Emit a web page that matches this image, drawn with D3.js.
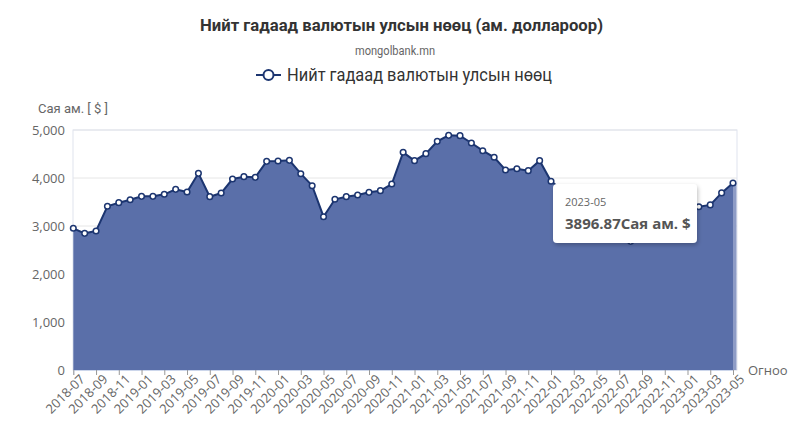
<!DOCTYPE html>
<html>
<head>
<meta charset="utf-8">
<script src="https://cdn.jsdelivr.net/npm/d3@7/dist/d3.min.js"></script>
<style>
  body { margin: 0; background: #fff; }
  svg { display: block; }
</style>
</head>
<body>
<svg id="chart" width="793" height="423"></svg>
<script>
// monthly periods 2018-07 .. 2023-05
const months = [
  '2018-07','2018-08','2018-09','2018-10','2018-11','2018-12',
  '2019-01','2019-02','2019-03','2019-04','2019-05','2019-06',
  '2019-07','2019-08','2019-09','2019-10','2019-11','2019-12',
  '2020-01','2020-02','2020-03','2020-04','2020-05','2020-06',
  '2020-07','2020-08','2020-09','2020-10','2020-11','2020-12',
  '2021-01','2021-02','2021-03','2021-04','2021-05','2021-06',
  '2021-07','2021-08','2021-09','2021-10','2021-11','2021-12',
  '2022-01','2022-02','2022-03','2022-04','2022-05','2022-06',
  '2022-07','2022-08','2022-09','2022-10','2022-11','2022-12',
  '2023-01','2023-02','2023-03','2023-04','2023-05'
]
// reserves, million USD (2022-02..2023-01 hidden by tooltip, estimated)
const reserves = [
  2952, 2847, 2896, 3410, 3486, 3548,
  3618, 3618, 3660, 3764, 3708, 4097,
  3611, 3687, 3979, 4028, 4014, 4347,
  4354, 4368, 4090, 3840, 3194, 3556,
  3611, 3646, 3701, 3736, 3875, 4535,
  4361, 4507, 4764, 4889, 4882, 4729,
  4569, 4431, 4167, 4194, 4153, 4361,
  3931, 3750, 3600, 3350, 3150, 2950,
  2770, 2680, 2750, 2900, 3050, 3400,
  3420, 3400, 3440, 3690, 3896.87
]
const yTicks = [0, 1000, 2000, 3000, 4000, 5000]
const xTickLabels = months.filter((m, i) => i % 2 === 0)

const seriesName = 'Нийт гадаад валютын улсын нөөц'
const hoverIndex = months.length - 1

const data = months.map((m, i) => ({ month: m, value: reserves[i] }))

const svg = d3.select('#chart')
const pLeft = 73, pRight = 737, pTop = 130, pBottom = 370

const x = d3.scalePoint().domain(months).range([pLeft + 0.3, pRight - 4])
const y = d3.scaleLinear().domain([0, 5000]).range([pBottom, pTop])

const head = 'Roboto, "Noto Sans", sans-serif'
const body = '"Open Sans", "Noto Sans", sans-serif'

// titles
svg.append('text')
  .attr('x', 200).attr('y', 31)
  .attr('textLength', 403).attr('lengthAdjust', 'spacingAndGlyphs')
  .style('font-family', head).style('font-weight', 'bold')
  .style('font-size', '17px').style('fill', '#333')
  .text('Нийт гадаад валютын улсын нөөц (ам. доллароор)')

svg.append('text')
  .attr('x', 355).attr('y', 55)
  .attr('textLength', 80).attr('lengthAdjust', 'spacingAndGlyphs')
  .style('font-family', head)
  .style('font-size', '12.5px').style('fill', '#666')
  .text('mongolbank.mn')

// legend
const lg = svg.append('g').attr('transform', 'translate(256,75)')
lg.append('line').attr('x1', 0).attr('x2', 25).attr('y1', 0).attr('y2', 0)
  .attr('stroke', '#1c3570').attr('stroke-width', 2)
lg.append('circle').attr('cx', 12.5).attr('cy', 0).attr('r', 5)
  .attr('fill', '#fff').attr('stroke', '#1c3570').attr('stroke-width', 2)
lg.append('text').attr('x', 31).attr('y', 6)
  .attr('textLength', 265).attr('lengthAdjust', 'spacingAndGlyphs')
  .style('font-family', head).style('font-size', '18px').style('fill', '#333')
  .text(seriesName)

// axis titles
svg.append('text')
  .attr('x', 38).attr('y', 113)
  .attr('textLength', 70).attr('lengthAdjust', 'spacingAndGlyphs')
  .style('font-family', head).style('font-size', '13px').style('fill', '#666')
  .text('Сая ам. [ $ ]')

svg.append('text')
  .attr('x', 748).attr('y', 375)
  .style('font-family', body).style('font-size', '13px').style('fill', '#666')
  .text('Огноо')

// grid
svg.append('g')
  .selectAll('line')
  .data(yTicks)
  .join('line')
  .attr('x1', pLeft).attr('x2', pRight)
  .attr('y1', d => y(d)).attr('y2', d => y(d))
  .attr('stroke', '#e6e6e6')

// plot border
svg.append('rect')
  .attr('x', pLeft).attr('y', pTop)
  .attr('width', pRight - pLeft).attr('height', pBottom - pTop)
  .attr('fill', 'none').attr('stroke', '#dfe3ee')

// y axis labels
const yAxis = d3.axisLeft(y).tickValues(yTicks).tickSize(0).tickPadding(8)
  .tickFormat(d3.format(','))
const ya = svg.append('g').attr('transform', `translate(${pLeft},0)`).call(yAxis)
ya.select('.domain').remove()
ya.selectAll('text').style('font-family', body).style('font-size', '13px').style('fill', '#666')

// area + line
const area = d3.area()
  .x(d => x(d.month)).y0(y(0)).y1(d => y(d.value))
const line = d3.line()
  .x(d => x(d.month)).y(d => y(d.value))

svg.append('path').datum(data)
  .attr('d', area).attr('fill', '#5a6fa9')

// hover band at the last point
svg.append('rect')
  .attr('x', x(months[hoverIndex])).attr('y', y(reserves[hoverIndex]))
  .attr('width', 3.5).attr('height', y(0) - y(reserves[hoverIndex]))
  .attr('fill', '#8e9cc6')

svg.append('path').datum(data)
  .attr('d', line).attr('fill', 'none')
  .attr('stroke', '#1c3570').attr('stroke-width', 2)

svg.append('g')
  .selectAll('circle')
  .data(data)
  .join('circle')
  .attr('cx', d => x(d.month)).attr('cy', d => y(d.value))
  .attr('r', 2.8)
  .attr('fill', '#fff').attr('stroke', '#1c3570').attr('stroke-width', 1.5)

// x axis
const xAxis = d3.axisBottom(x).tickValues(xTickLabels).tickSize(5).tickPadding(4)
const xa = svg.append('g').attr('transform', `translate(0,${pBottom})`).call(xAxis)
xa.select('.domain').attr('stroke', '#ccd6eb')
xa.selectAll('.tick line').attr('stroke', '#999')
xa.selectAll('text')
  .attr('transform', 'translate(0,-2) rotate(-45)')
  .attr('dy', '0.6em')
  .style('text-anchor', 'end')
  .style('font-family', body).style('font-size', '13px').style('fill', '#666')

// tooltip
const tip = svg.append('g').attr('transform', 'translate(553,184)')
const defs = svg.append('defs')
const f = defs.append('filter').attr('id', 'sh').attr('x', '-20%').attr('y', '-20%')
  .attr('width', '140%').attr('height', '150%')
f.append('feDropShadow').attr('dx', 1).attr('dy', 2).attr('stdDeviation', 2)
  .attr('flood-color', '#000').attr('flood-opacity', 0.25)
tip.append('rect').attr('width', 144).attr('height', 59).attr('rx', 4)
  .attr('fill', '#fff').attr('filter', 'url(#sh)')
tip.append('text').attr('x', 12).attr('y', 22)
  .style('font-family', body).style('font-size', '11px').style('fill', '#666')
  .text(months[hoverIndex])
tip.append('text').attr('x', 12).attr('y', 45)
  .style('font-family', body).style('font-size', '15px').style('font-weight', 'bold').style('fill', '#555')
  .text(reserves[hoverIndex].toFixed(2) + 'Сая ам. $')
</script>
</body>
</html>
